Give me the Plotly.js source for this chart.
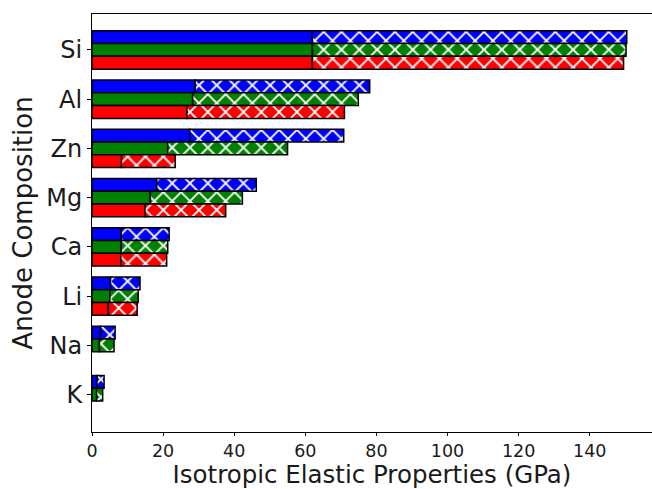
<!DOCTYPE html>
<html>
<head>
<meta charset="utf-8">
<script src="https://cdn.plot.ly/plotly-3.0.1.min.js"></script>
<style>html,body{margin:0;padding:0;background:#fff;}#chart{width:652px;height:489px;}</style>
</head>
<body>
<div id="chart"></div>
<script>
const categories = ['Si', 'Al', 'Zn', 'Mg', 'Ca', 'Li', 'Na', 'K'];
// solid part (left) and full bar length (solid + hatched), GPa
const blueSolid  = [62.0, 29.0, 27.5, 18.2, 8.2, 5.2, 2.4, 1.4];
const blueTotal  = [150.4, 78.1, 70.8, 46.2, 21.7, 13.5, 6.5, 3.4];
const greenSolid = [62.0, 28.3, 21.3, 16.4, 8.2, 5.0, 2.1, 1.3];
const greenTotal = [150.2, 74.9, 55.0, 42.3, 21.3, 13.0, 6.2, 3.0];
const redSolid   = [62.0, 26.7, 8.3, 14.9, 8.1, 4.6, null, null];
const redTotal   = [149.5, 71.0, 23.4, 37.6, 21.0, 12.7, null, null];
const xTicks = [0, 20, 40, 60, 80, 100, 120, 140];

const series = [
  {solid: blueSolid, total: blueTotal, color: '#0000ff', offset: 0.13},
  {solid: greenSolid, total: greenTotal, color: '#008000', offset: -0.13},
  {solid: redSolid, total: redTotal, color: '#ff0000', offset: -0.39}
];
const W = 0.26;
const traces = [];
series.forEach(s => {
  traces.push({
    type: 'bar', orientation: 'h', y: categories, x: s.solid,
    width: W, offset: s.offset,
    marker: {color: s.color, line: {color: '#000', width: 1.5}},
    hoverinfo: 'x+y', showlegend: false
  });
  traces.push({
    type: 'bar', orientation: 'h', y: categories,
    x: s.total.map((t, i) => (t == null ? null : t - s.solid[i])),
    base: s.solid,
    width: W, offset: s.offset,
    marker: {color: s.color, line: {color: '#000', width: 1.5},
      pattern: {shape: 'x', fgcolor: '#ffffff', bgcolor: s.color, size: 12.6, solidity: 0.28, fillmode: 'replace'}},
    hoverinfo: 'x+y', showlegend: false
  });
});

const layout = {
  width: 652, height: 489,
  margin: {l: 92, r: 0, t: 14, b: 57},
  barmode: 'overlay',
  paper_bgcolor: '#fff', plot_bgcolor: '#fff',
  font: {family: 'DejaVu Sans', color: '#1a1a1a'},
  xaxis: {
    range: [0, 157.5], tickvals: xTicks, ticktext: xTicks.map(String),
    showgrid: false, zeroline: false,
    showline: true, linecolor: '#000', linewidth: 1, mirror: true,
    ticks: 'outside', ticklen: 3, tickcolor: '#000',
    tickfont: {size: 17.5},
    title: {text: 'Isotropic Elastic Properties (GPa)', font: {size: 24.5}, standoff: 6},
    automargin: false, fixedrange: true
  },
  yaxis: {
    type: 'category', categoryorder: 'array', categoryarray: categories.slice().reverse(),
    range: [-0.76, 7.73],
    showgrid: false, zeroline: false,
    showline: true, linecolor: '#000', linewidth: 1,
    ticks: 'outside', ticklen: 4, tickcolor: '#000',
    tickfont: {size: 24},
    title: {text: 'Anode Composition', font: {size: 26}, standoff: 6},
    automargin: false, fixedrange: true
  }
};
Plotly.newPlot('chart', traces, layout, {staticPlot: true, displayModeBar: false});
</script>
</body>
</html>
